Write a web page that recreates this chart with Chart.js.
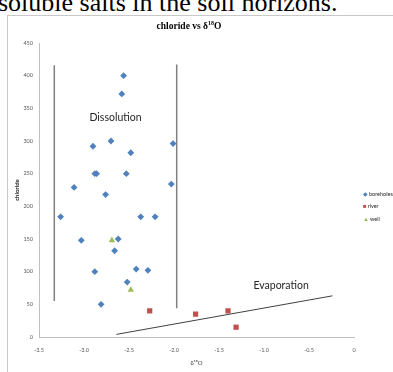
<!DOCTYPE html>
<html>
<head>
<meta charset="utf-8">
<script src="https://cdn.jsdelivr.net/npm/chart.js@4/dist/chart.umd.min.js"></script>
<style>
  html, body { margin: 0; padding: 0; background: #fff; }
  #wrap { position: relative; width: 393px; height: 372px; overflow: hidden; }
  #caption { position: absolute; left: -2px; top: -10px; font: 26px/26px "Liberation Serif", serif; color: #000; white-space: nowrap; }
  #frame { position: absolute; left: 7px; top: 15px; width: 400px; height: 400px; border-left: 1px solid #c8c8c8; border-top: 1px solid #c8c8c8; }
  #title { position: absolute; left: 140px; width: 98px; top: 20px; text-align: center; font: bold 9.5px "Liberation Serif", serif; color: #000; }
  #title sup { font-size: 6px; }
  canvas { position: absolute; left: 0; top: 0; }
  .leg { position: absolute; left: 363px; font: 5.5px Lato, sans-serif; color: #262626; white-space: nowrap; }
  .leg span { display: inline-block; margin-right: 1px; font-size: 6px; }
</style>
</head>
<body>
<div id="wrap">
  <div id="caption">soluble salts in the soil horizons.</div>
  <div id="frame"></div>
  <canvas id="chart" width="393" height="372"></canvas>
  <div id="title">chloride vs δ<sup>18</sup>O</div>
  <div class="leg" style="top:190px"><span style="color:#4F81BD">◆</span>boreholes</div>
  <div class="leg" style="top:202px"><span style="color:#C0504D">■</span>river</div>
  <div class="leg" style="top:215px"><span style="color:#9BBB59">▲</span>well</div>
</div>
<script>
// δ18O (x) and chloride (y)
var boreholesX = [-2.56, -2.58, -2.90, -2.70, -2.01, -2.48, -2.88, -2.86, -2.53, -3.11, -2.76, -2.03,
  -3.26, -2.37, -2.21, -3.03, -2.62, -2.66, -2.88, -2.42, -2.29, -2.52, -2.81];
var boreholesY = [400, 372, 292, 300, 296, 282, 250, 250, 250, 229, 218, 234,
  184, 184, 184, 148, 150, 132, 100, 104, 102, 84, 50];
var riverX = [-2.27, -1.76, -1.40, -1.31];
var riverY = [40, 35, 40, 15];
var wellX = [-2.69, -2.48];
var wellY = [148, 72];

// hand-drawn guide lines
var leftLineX = [-3.33, -3.33];
var leftLineY = [416, 55];
var rightLineX = [-1.97, -1.97];
var rightLineY = [417, 44];
var evapLineX = [-2.64, -0.24];
var evapLineY = [4, 63];

var xTicks = [-3.5, -3, -2.5, -2, -1.5, -1, -0.5, 0];
var yTicks = [0, 50, 100, 150, 200, 250, 300, 350, 400, 450];

var notes = [
  { text: "Dissolution", x: -2.65, y: 336 },
  { text: "Evaporation", x: -0.81, y: 78 },
];

function toPoints(xs, ys) {
  return xs.map(function (x, i) {
    return { x: x, y: ys[i] };
  });
}

function guide(xs, ys, color, width) {
  return {
    type: "line",
    data: toPoints(xs, ys),
    borderColor: color,
    borderWidth: width,
    pointRadius: 0,
    fill: false,
  };
}

var notesPlugin = {
  id: "notes",
  afterDatasetsDraw: function (chart) {
    var ctx = chart.ctx;
    var x = chart.scales.x;
    var y = chart.scales.y;
    ctx.save();
    ctx.font = "10.5px Lato";
    ctx.fillStyle = "#262626";
    ctx.textAlign = "center";
    ctx.textBaseline = "middle";
    notes.forEach(function (n) {
      ctx.fillText(n.text, x.getPixelForValue(n.x), y.getPixelForValue(n.y));
    });
    ctx.restore();
  },
};

var tickFont = { family: "Lato", size: 5.5 };

new Chart(document.getElementById("chart").getContext("2d"), {
  type: "scatter",
  data: {
    datasets: [
      guide(leftLineX, leftLineY, "#808080", 1.5),
      guide(rightLineX, rightLineY, "#808080", 1.5),
      guide(evapLineX, evapLineY, "#404040", 1),
      {
        label: "boreholes",
        data: toPoints(boreholesX, boreholesY),
        pointStyle: "rectRot",
        pointRadius: 3.4,
        backgroundColor: "#4F81BD",
        borderColor: "#4F81BD",
        borderWidth: 0,
      },
      {
        label: "river",
        data: toPoints(riverX, riverY),
        pointStyle: "rect",
        pointRadius: 3.7,
        backgroundColor: "#C0504D",
        borderColor: "#C0504D",
        borderWidth: 0,
      },
      {
        label: "well",
        data: toPoints(wellX, wellY),
        pointStyle: "triangle",
        pointRadius: 3.7,
        backgroundColor: "#9BBB59",
        borderColor: "#9BBB59",
        borderWidth: 0,
      },
    ],
  },
  options: {
    responsive: false,
    animation: false,
    layout: { padding: { left: 13, top: 43, right: 39, bottom: 5 } },
    plugins: {
      legend: { display: false },
      title: { display: false },
      tooltip: { enabled: false },
    },
    scales: {
      x: {
        type: "linear",
        min: xTicks[0],
        max: xTicks[xTicks.length - 1],
        afterBuildTicks: function (s) {
          s.ticks = xTicks.map(function (v) { return { value: v }; });
        },
        ticks: { color: "#595959", font: tickFont, padding: 10, maxRotation: 0 },
        grid: { display: false, drawTicks: false },
        border: { display: true, color: "#bfbfbf", width: 1 },
        title: {
          display: true,
          text: "δ¹⁸O",
          color: "#404040",
          font: { family: "Lato", size: 6 },
          padding: 0,
        },
        afterFit: function (s) { s.height = 30; },
      },
      y: {
        type: "linear",
        min: yTicks[0],
        max: yTicks[yTicks.length - 1],
        afterBuildTicks: function (s) {
          s.ticks = yTicks.map(function (v) { return { value: v }; });
        },
        ticks: { color: "#595959", font: tickFont, padding: 6 },
        grid: { display: false, drawTicks: false },
        border: { display: true, color: "#bfbfbf", width: 1 },
        title: {
          display: true,
          text: "chloride",
          color: "#262626",
          font: { family: "Lato", size: 6, weight: "bold" },
          padding: 0,
        },
        afterFit: function (s) { s.width = 26; },
      },
    },
  },
  plugins: [notesPlugin],
});
</script>
</body>
</html>
